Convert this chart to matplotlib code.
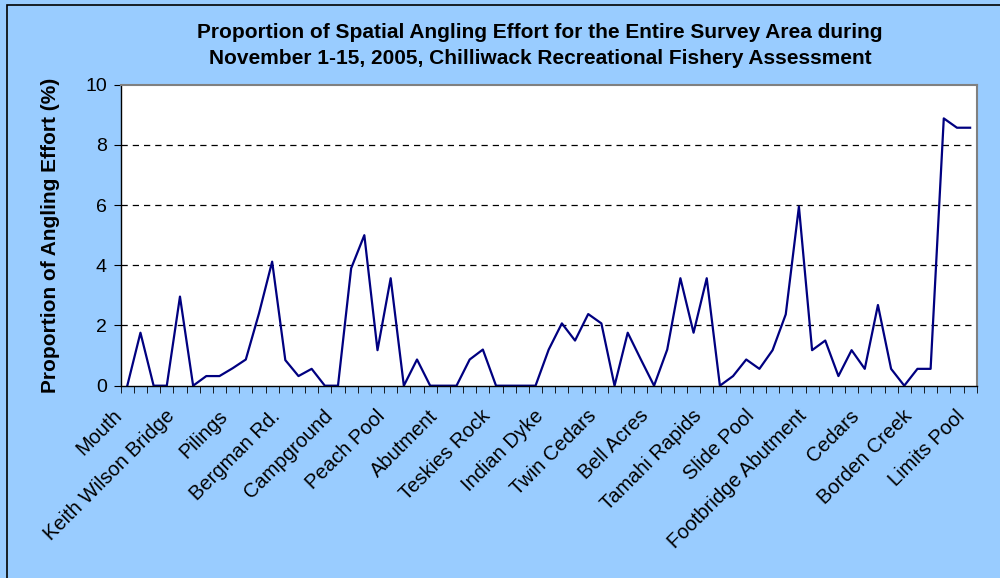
import numpy as np
import matplotlib
matplotlib.use("Agg")
import matplotlib.pyplot as plt
import matplotlib.transforms as mtransforms
from matplotlib.patches import Rectangle

plt.rcParams["font.family"] = ["Liberation Sans", "DejaVu Sans"]

# proportion of angling effort (%) for each of the 65 survey sections
effort = [0, 1.76, 0, 0, 2.96, 0, 0.32, 0.32, 0.58, 0.87,
          2.4, 4.12, 0.85, 0.32, 0.56, 0, 0, 3.9, 5.0, 1.18,
          3.57, 0, 0.87, 0, 0, 0, 0.87, 1.2, 0, 0,
          0, 0, 1.2, 2.07, 1.5, 2.38, 2.07, 0, 1.76, 0.87,
          0, 1.2, 3.57, 1.76, 3.57, 0, 0.32, 0.87, 0.56, 1.18,
          2.37, 5.95, 1.18, 1.5, 0.32, 1.18, 0.56, 2.68, 0.56, 0,
          0.56, 0.56, 8.88, 8.57, 8.57]

# only every 4th section is labelled on the axis
site_labels = ["Mouth", "Keith Wilson Bridge", "Pilings", "Bergman Rd.",
               "Campground", "Peach Pool", "Abutment", "Teskies Rock",
               "Indian Dyke", "Twin Cedars", "Bell Acres", "Tamahi Rapids",
               "Slide Pool", "Footbridge Abutment", "Cedars", "Borden Creek",
               "Limits Pool"]
y_ticks = [0, 2, 4, 6, 8, 10]

bg = "#99CCFF"
fig = plt.figure(figsize=(10, 5.78), dpi=100, facecolor=bg)
fig.patches.append(Rectangle((0.007, -0.1), 1.1, 1.091, transform=fig.transFigure,
                             fill=False, edgecolor="black", linewidth=1.2))

ax = fig.add_axes([0.1207, 0.3327, 0.856, 0.5208])
ax.set_facecolor("white")

x = np.arange(len(effort))
ax.plot(x, effort, color="#000080", linewidth=1.6)

ax.set_xlim(-0.5, len(effort) - 0.5)
ax.set_ylim(0, 10)

for v in y_ticks[1:-1]:
    ax.axhline(v, color="black", linestyle=(0, (5, 4)), linewidth=0.9, zorder=0)

ax.set_yticks(y_ticks)
ax.tick_params(axis="y", direction="out", length=5, labelsize=14, pad=5)

ax.set_xticks(x[::4])
ax.set_xticklabels(site_labels, rotation=45, ha="right", rotation_mode="anchor", fontsize=14.5)
ax.set_xticks(np.arange(-0.5, len(effort)), minor=True)
ax.tick_params(axis="x", which="major", length=0, pad=17)
ax.tick_params(axis="x", which="minor", direction="out", length=5)

# nudge the slanted labels left so they end just before their section
shift = mtransforms.ScaledTranslation(-0.15, 0.03, fig.dpi_scale_trans)
for lbl in ax.get_xticklabels():
    lbl.set_transform(lbl.get_transform() + shift)

for side in ["top", "right"]:
    ax.spines[side].set_color("#808080")
    ax.spines[side].set_linewidth(1.5)
for side in ["left", "bottom"]:
    ax.spines[side].set_color("black")
    ax.spines[side].set_linewidth(1.0)

ax.set_ylabel("Proportion of Angling Effort (%)", fontsize=15, fontweight="bold", labelpad=18)

fig.text(0.54, 0.943, "Proportion of Spatial Angling Effort for the Entire Survey Area during",
         ha="center", va="center", fontsize=15, fontweight="bold")
fig.text(0.54, 0.898, "November 1-15, 2005, Chilliwack Recreational Fishery Assessment",
         ha="center", va="center", fontsize=15, fontweight="bold")

fig.savefig("out.png", dpi=100, facecolor=bg)
